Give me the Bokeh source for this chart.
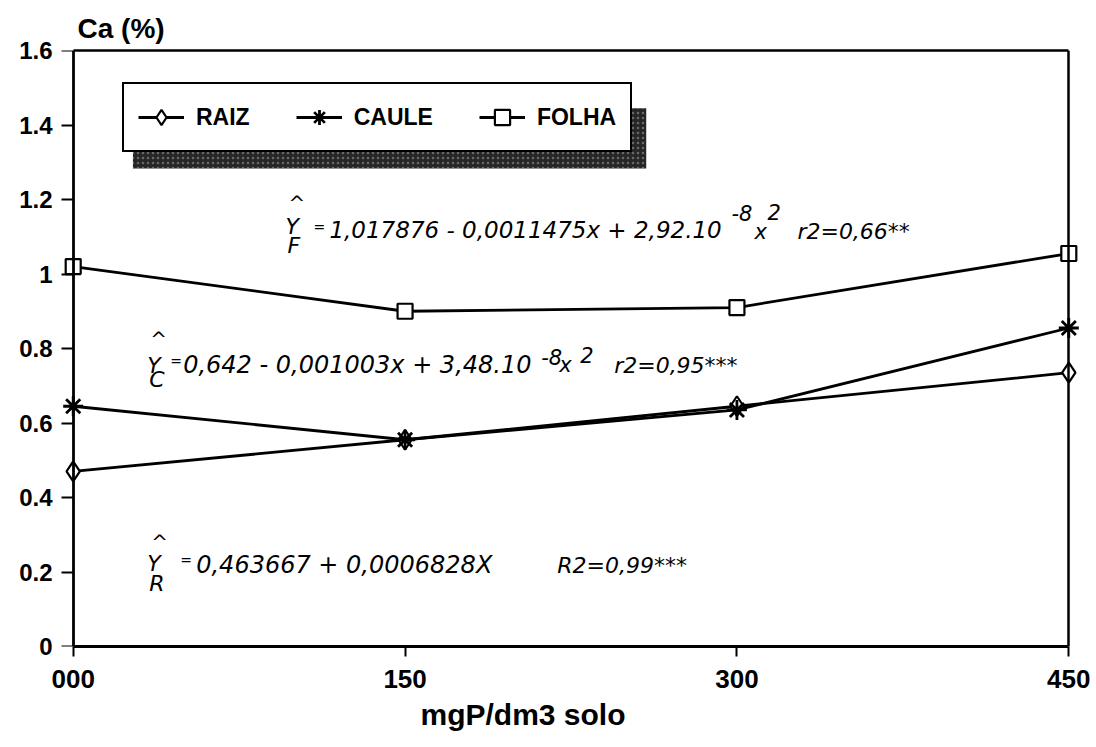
from bokeh.plotting import figure
from bokeh.models import (Range1d, FixedTicker, Label, Legend, LegendItem,
                          BoxAnnotation, LinearAxis, Title)
from bokeh.embed import file_html
from bokeh.resources import INLINE

# P dose in soil (mg P / dm3) and Ca content (%) per plant part
doses = [0, 150, 300, 450]
dose_labels = ["000", "150", "300", "450"]
raiz = [0.47, 0.555, 0.645, 0.735]
caule = [0.645, 0.555, 0.635, 0.855]
folha = [1.02, 0.90, 0.91, 1.055]
y_ticks = [0, 0.2, 0.4, 0.6, 0.8, 1.0, 1.2, 1.4, 1.6]
y_tick_labels = ["0", "0.2", "0.4", "0.6", "0.8", "1", "1.2", "1.4", "1.6"]

X0, X1 = 0, 450
Y0, Y1 = 0, 1.6
PAD = 8  # room so end markers are not cut by the frame

FONT = "Liberation Sans"
EQ_FONT = "DejaVu Sans"

p = figure(width=1096, height=747, output_backend="svg", toolbar_location=None,
           x_range=Range1d(X0 - PAD, X1 + PAD), y_range=Range1d(Y0, Y1),
           x_axis_location=None, y_axis_location=None,
           min_border_left=55, min_border_right=10,
           min_border_top=50, min_border_bottom=101)
p.background_fill_color = "white"
p.border_fill_color = "white"
p.outline_line_color = None
p.grid.visible = False


def style_axis(ax):
    ax.axis_line_color = "black"
    ax.axis_line_width = 2.8
    ax.major_tick_line_color = "black"
    ax.major_tick_line_width = 2
    ax.minor_tick_line_color = None
    ax.major_tick_in = 0
    ax.major_label_text_font = FONT
    ax.major_label_text_font_style = "bold"
    ax.major_label_text_font_size = "24px"
    ax.major_label_text_color = "black"


# x axis (bottom edge of the box)
xaxis = LinearAxis(ticker=FixedTicker(ticks=doses), bounds=(X0, X1),
                   major_label_overrides={d: l for d, l in zip(doses, dose_labels)})
style_axis(xaxis)
xaxis.major_tick_out = 10
xaxis.major_label_standoff = 13
xaxis.major_label_text_font_size = "26px"
p.add_layout(xaxis, "below")

# y tick labels, beside the box
ylabels = LinearAxis(ticker=FixedTicker(ticks=y_ticks),
                     major_label_overrides={t: l for t, l in zip(y_ticks, y_tick_labels)})
style_axis(ylabels)
ylabels.axis_line_color = None
ylabels.major_tick_line_color = None
ylabels.major_tick_out = 0
ylabels.major_label_standoff = 3
p.add_layout(ylabels, "left")

# y axis line and its ticks, pinned at x = 0
yline = LinearAxis(ticker=FixedTicker(ticks=y_ticks), bounds=(Y0, Y1),
                   fixed_location=X0)
style_axis(yline)
yline.major_tick_out = 0
yline.major_tick_in = 12
yline.major_label_text_color = None
yline.major_label_text_font_size = "1px"
yline.major_label_standoff = 0
p.add_layout(yline, "right")

# top and right edges of the box
top_edge = LinearAxis(ticker=FixedTicker(ticks=[]), bounds=(X0, X1),
                      major_label_text_font_size="1px", major_tick_line_color=None,
                      axis_line_width=2.5)
p.add_layout(top_edge, "above")
right_edge = LinearAxis(ticker=FixedTicker(ticks=[]), bounds=(Y0, Y1),
                        fixed_location=X1, major_label_text_font_size="1px",
                        major_tick_line_color=None, axis_line_width=2.5)
p.add_layout(right_edge, "right")

# axis titles
p.add_layout(Title(text="Ca (%)", align="left", offset=22,
                   text_font=FONT, text_font_style="bold",
                   text_font_size="28px", text_color="black", standoff=14),
             "above")
p.add_layout(Title(text="mgP/dm3 solo", align="left", offset=365,
                   text_font=FONT, text_font_style="bold",
                   text_font_size="30px", text_color="black", standoff=10),
             "below")

# series
r_line = p.line(doses, raiz, line_color="black", line_width=2.8)
r_pts = p.scatter(doses, raiz, marker="diamond", size=20, fill_color="white",
                  line_color="black", line_width=2.2)
c_line = p.line(doses, caule, line_color="black", line_width=2.8)
c_pts = p.scatter(doses, caule, marker="asterisk", size=20,
                  line_color="black", line_width=2.8)
f_line = p.line(doses, folha, line_color="black", line_width=2.8)
f_pts = p.scatter(doses, folha, marker="square", size=15, fill_color="white",
                  line_color="black", line_width=2.2)

# legend drop shadow
shadow = BoxAnnotation(left=27, right=259, bottom=1.283, top=1.445,
                       fill_color="#262626", fill_alpha=1.0, line_color=None,
                       hatch_pattern="dot", hatch_color="#a0a0a0",
                       hatch_scale=5, hatch_alpha=0.55, level="overlay")
p.add_layout(shadow)

legend = Legend(items=[
    LegendItem(label="RAIZ", renderers=[r_line, r_pts]),
    LegendItem(label="CAULE", renderers=[c_line, c_pts]),
    LegendItem(label="FOLHA", renderers=[f_line, f_pts]),
], orientation="horizontal", location=(67, 494),
    label_text_font=FONT, label_text_font_style="bold",
    label_text_font_size="23px", label_text_color="black",
    glyph_width=46, glyph_height=38, label_standoff=12, spacing=46,
    padding=14, margin=0, border_line_color="black", border_line_width=2,
    border_line_alpha=1.0,
    background_fill_color="white", background_fill_alpha=1.0)
p.add_layout(legend, "center")


def eq(x, y, txt, dx=0, dy=0, size="23px"):
    p.add_layout(Label(x=x, y=y, x_offset=dx, y_offset=dy, text=txt,
                       text_color="black", text_font=EQ_FONT,
                       text_font_style="italic", text_font_size=size,
                       text_baseline="alphabetic"))


# leaf: Y^F = 1,017876 - 0,0011475x + 2,92.10^-8 x^2
fx, fy = 115.8, 1.119
eq(fx, fy, "Y", -44, 3, "22px")
eq(fx, fy, "^", -41, 27, "20px")
eq(fx, fy, "F", -42, -16, "22px")
eq(fx, fy, "=", -16, 3, "14px")
eq(fx, fy, "1,017876 - 0,0011475x + 2,92.10")
eq(fx, fy, "-8", 402, 17, "21px")
eq(fx, fy, "x", 425, -2, "21px")
eq(fx, fy, "2", 438, 18, "21px")
eq(fx, fy, "r2=0,66**", 468, -2, "22px")

# stem: Y^C = 0,642 - 0,001003x + 3,48.10^-8 x^2
cx, cy = 49.7, 0.755
eq(cx, cy, "Y", -36, 0, "22px")
eq(cx, cy, "^", -33, 26, "20px")
eq(cx, cy, "C", -34, -14, "22px")
eq(cx, cy, "=", -13, 4, "14px")
eq(cx, cy, "0,642 - 0,001003x + 3,48.10", size="24px")
eq(cx, cy, "-8", 358, 8, "21px")
eq(cx, cy, "x", 376, 0, "21px")
eq(cx, cy, "2", 397, 10, "21px")
eq(cx, cy, "r2=0,95***", 431, 0, "22px")

# root: Y^R = 0,463667 + 0,0006828X
rx, ry = 55.6, 0.2175
eq(rx, ry, "Y", -49, 2, "22px")
eq(rx, ry, "^", -45, 23, "20px")
eq(rx, ry, "R", -47, -18, "22px")
eq(rx, ry, "=", -16, 5, "14px")
eq(rx, ry, "0,463667 + 0,0006828X", size="24px")
eq(rx, ry, "R2=0,99***", 361, 0, "22px")

open("out.html", "w").write(file_html(p, INLINE))
